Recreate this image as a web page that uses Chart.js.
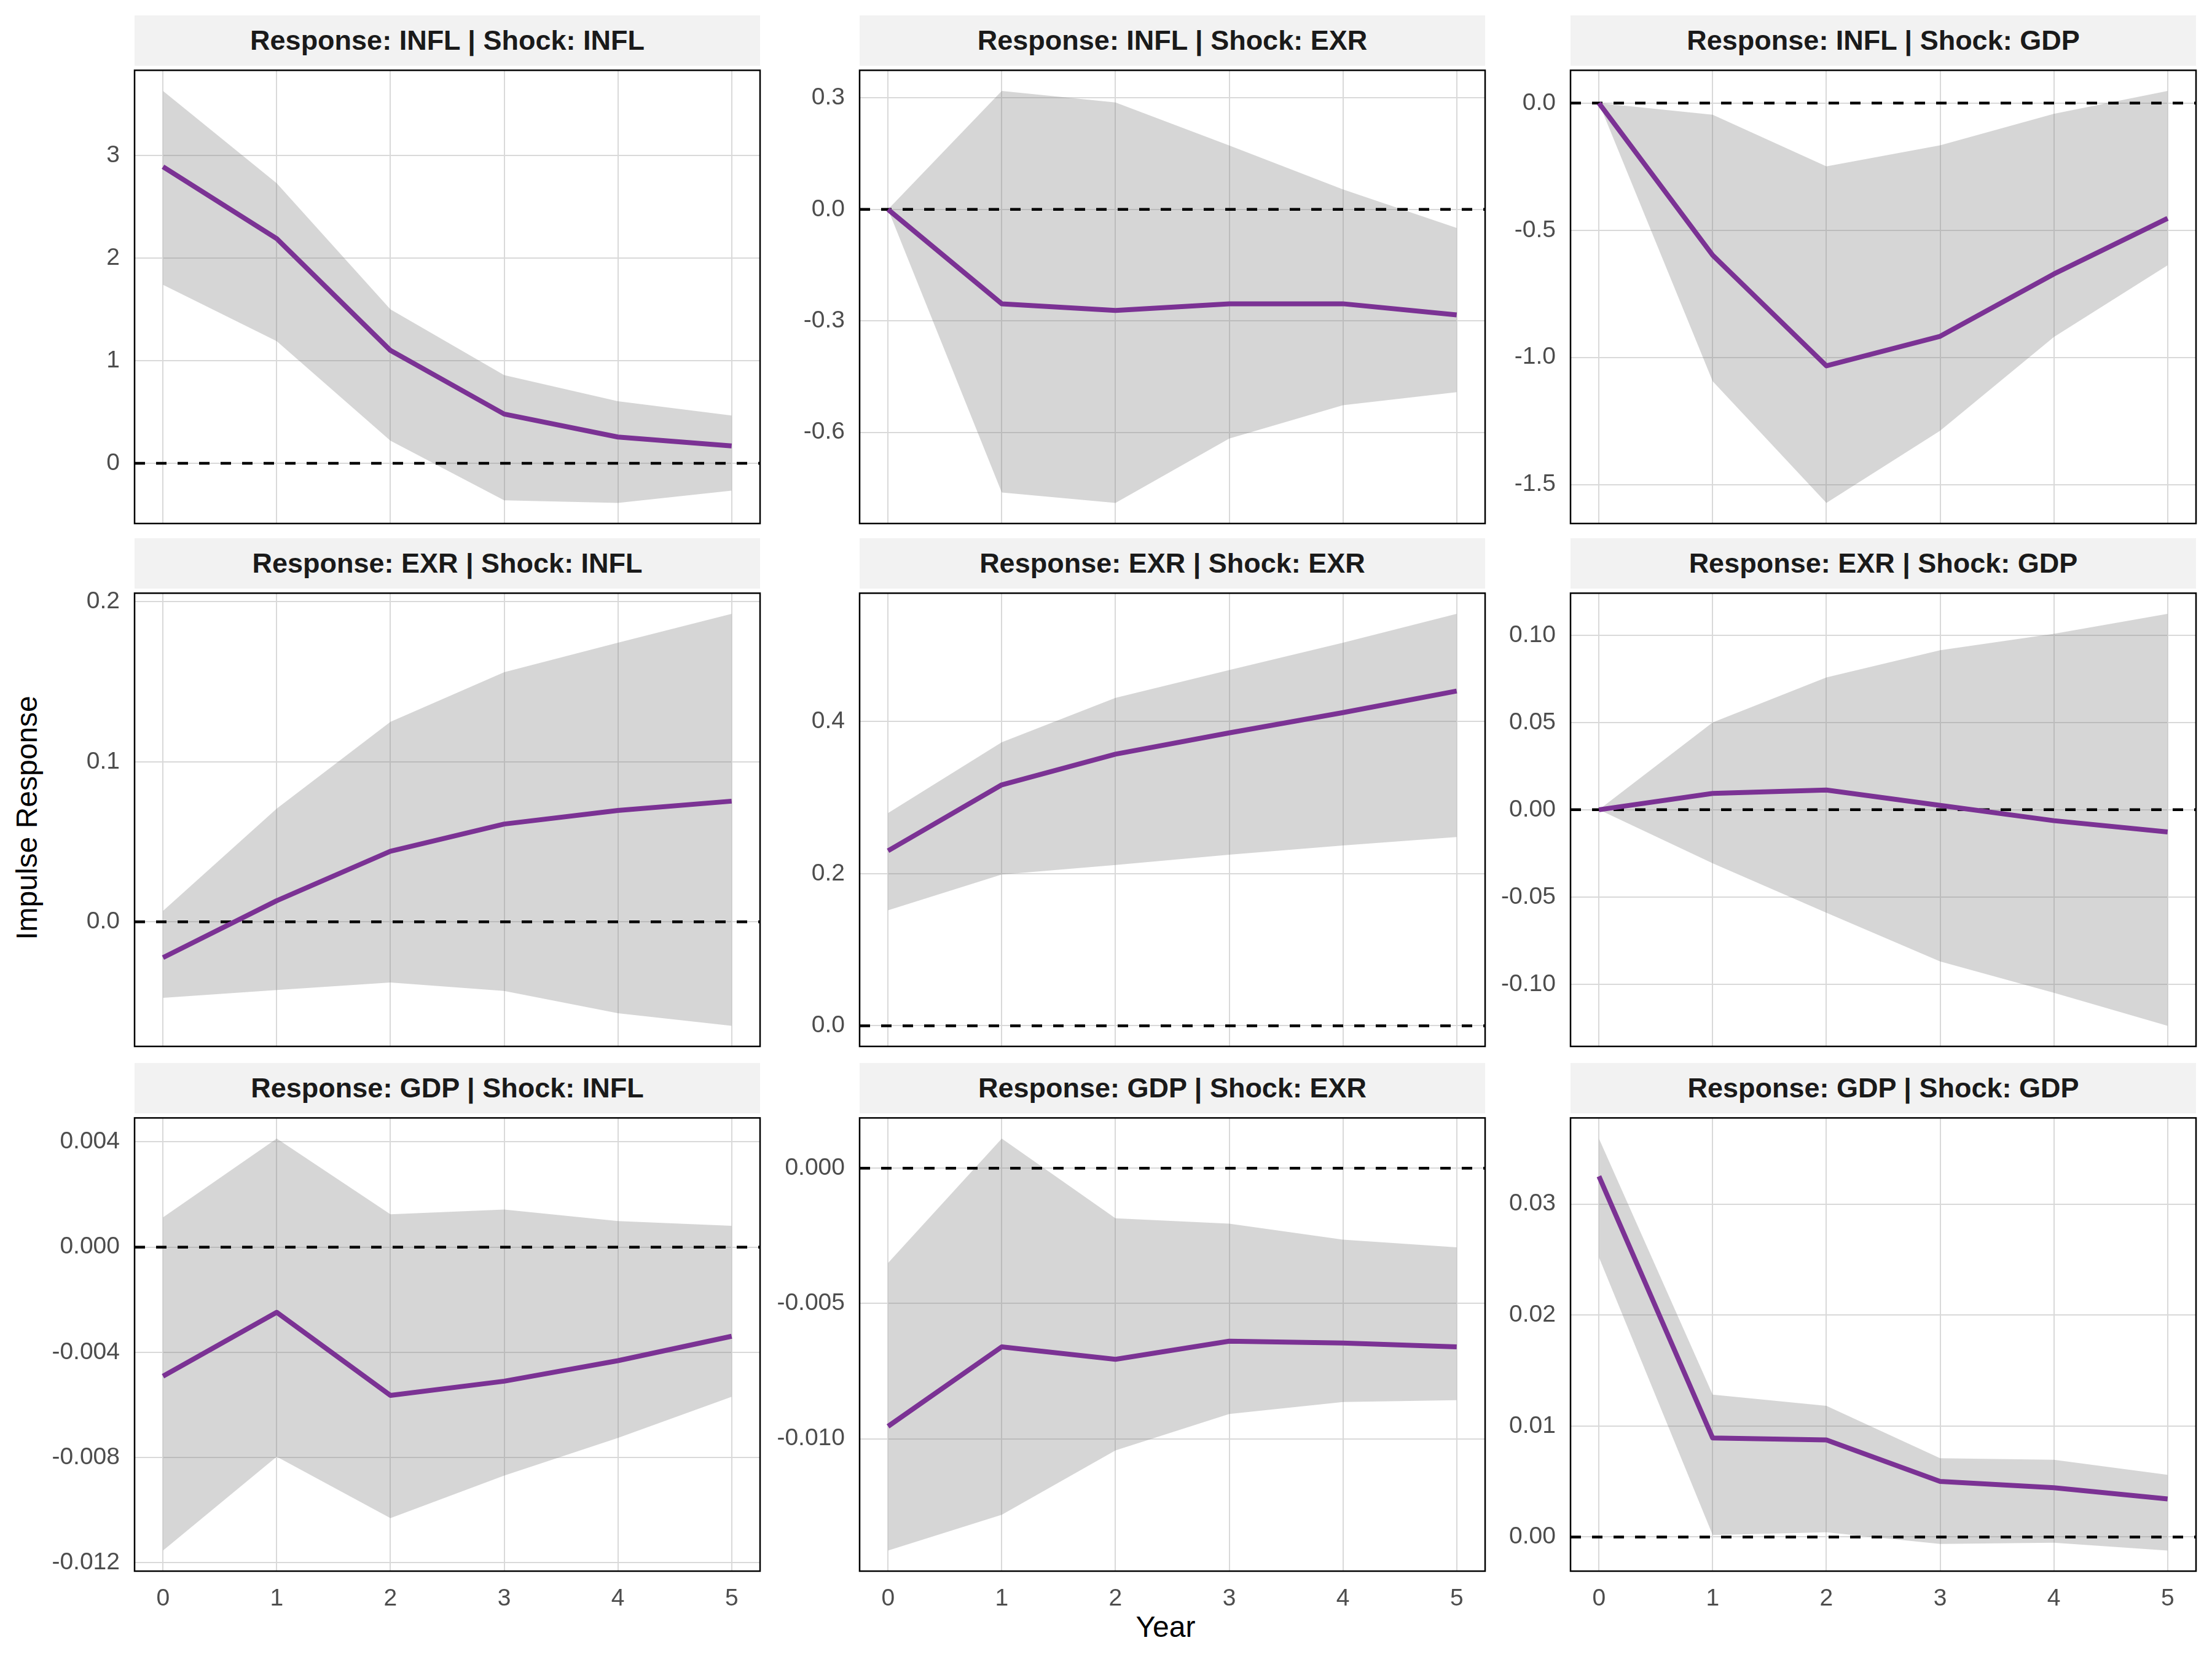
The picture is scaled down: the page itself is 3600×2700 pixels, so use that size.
<!DOCTYPE html>
<html>
<head>
<meta charset="utf-8">
<title>Impulse responses</title>
<script src="https://cdn.jsdelivr.net/npm/chart.js@4.4.1/dist/chart.umd.min.js"></script>
<style>
  html, body { margin: 0; padding: 0; background: #fff; }
  #page { position: relative; width: 3600px; height: 2700px; font-family: "Liberation Sans", Arial, sans-serif; }
  .strip { position: absolute; background: #f2f2f2; color: #1a1a1a; font-weight: bold; font-size: 45px;
           display: flex; align-items: center; justify-content: center; z-index: 2; white-space: nowrap; }
  .holder { position: absolute; z-index: 1; }
  .axis-title { position: absolute; font-size: 48px; color: #000; white-space: nowrap; transform: translate(-50%, -50%); }
</style>
</head>
<body>
<div id="page"></div>
<script>
// horizon (years)
const years = [0, 1, 2, 3, 4, 5];

// Response: INFL
const inflInflIrf   = [2.89, 2.19, 1.10, 0.48, 0.256, 0.17];
const inflInflLower = [1.74, 1.19, 0.22, -0.36, -0.386, -0.266];
const inflInflUpper = [3.63, 2.73, 1.50, 0.86, 0.605, 0.466];

const inflExrIrf   = [0, -0.254, -0.272, -0.254, -0.254, -0.284];
const inflExrLower = [0, -0.762, -0.790, -0.617, -0.527, -0.492];
const inflExrUpper = [0, 0.319, 0.288, 0.172, 0.054, -0.050];

const inflGdpIrf   = [0, -0.598, -1.033, -0.917, -0.672, -0.453];
const inflGdpLower = [0, -1.094, -1.572, -1.288, -0.920, -0.638];
const inflGdpUpper = [0, -0.046, -0.249, -0.166, -0.042, 0.048];

// Response: EXR
const exrInflIrf   = [-0.0224, 0.0132, 0.0441, 0.0611, 0.0696, 0.0754];
const exrInflLower = [-0.0475, -0.0426, -0.0379, -0.0432, -0.0571, -0.065];
const exrInflUpper = [0.0068, 0.0707, 0.125, 0.156, 0.1744, 0.1925];

const exrExrIrf   = [0.230, 0.3167, 0.357, 0.385, 0.4116, 0.440];
const exrExrLower = [0.1518, 0.1989, 0.2114, 0.2249, 0.237, 0.248];
const exrExrUpper = [0.2795, 0.3727, 0.431, 0.4676, 0.5035, 0.5415];

const exrGdpIrf   = [0, 0.0094, 0.0113, 0.0025, -0.00625, -0.0127];
const exrGdpLower = [0, -0.0307, -0.059, -0.0869, -0.1049, -0.1238];
const exrGdpUpper = [0, 0.05, 0.0758, 0.0914, 0.1008, 0.1123];

// Response: GDP
const gdpInflIrf   = [-0.00491, -0.00248, -0.00564, -0.0051, -0.00432, -0.00339];
const gdpInflLower = [-0.01154, -0.00797, -0.01031, -0.00869, -0.00726, -0.00569];
const gdpInflUpper = [0.00113, 0.00413, 0.00125, 0.00143, 0.00099, 0.00081];

const gdpExrIrf   = [-0.00954, -0.0066, -0.00706, -0.00639, -0.00646, -0.0066];
const gdpExrLower = [-0.01413, -0.01281, -0.01043, -0.00908, -0.00864, -0.00857];
const gdpExrUpper = [-0.0035, 0.0011, -0.00185, -0.00205, -0.00264, -0.00292];

const gdpGdpIrf   = [0.0325, 0.00892, 0.00874, 0.005, 0.00444, 0.00343];
const gdpGdpLower = [0.0252, 0.00017, 0.00042, -0.00063, -0.00052, -0.00122];
const gdpGdpUpper = [0.0359, 0.01283, 0.01182, 0.0071, 0.00696, 0.0056];

// y tick labels per panel
const inflInflTicks = [0, 1, 2, 3];
const inflExrTicks  = [-0.6, -0.3, 0.0, 0.3];
const inflGdpTicks  = [-1.5, -1.0, -0.5, 0.0];
const exrInflTicks  = [0.0, 0.1, 0.2];
const exrExrTicks   = [0.0, 0.2, 0.4];
const exrGdpTicks   = [-0.10, -0.05, 0.00, 0.05, 0.10];
const gdpInflTicks  = [-0.012, -0.008, -0.004, 0.000, 0.004];
const gdpExrTicks   = [-0.010, -0.005, 0.000];
const gdpGdpTicks   = [0.00, 0.01, 0.02, 0.03];

const panels = [
    { resp: 'INFL', shock: 'INFL', irf: inflInflIrf, lo: inflInflLower, hi: inflInflUpper, ticks: inflInflTicks, dec: 0 },
    { resp: 'INFL', shock: 'EXR',  irf: inflExrIrf,  lo: inflExrLower,  hi: inflExrUpper,  ticks: inflExrTicks,  dec: 1 },
    { resp: 'INFL', shock: 'GDP',  irf: inflGdpIrf,  lo: inflGdpLower,  hi: inflGdpUpper,  ticks: inflGdpTicks,  dec: 1 },
    { resp: 'EXR',  shock: 'INFL', irf: exrInflIrf,  lo: exrInflLower,  hi: exrInflUpper,  ticks: exrInflTicks,  dec: 1 },
    { resp: 'EXR',  shock: 'EXR',  irf: exrExrIrf,   lo: exrExrLower,   hi: exrExrUpper,   ticks: exrExrTicks,   dec: 1 },
    { resp: 'EXR',  shock: 'GDP',  irf: exrGdpIrf,   lo: exrGdpLower,   hi: exrGdpUpper,   ticks: exrGdpTicks,   dec: 2 },
    { resp: 'GDP',  shock: 'INFL', irf: gdpInflIrf,  lo: gdpInflLower,  hi: gdpInflUpper,  ticks: gdpInflTicks,  dec: 3 },
    { resp: 'GDP',  shock: 'EXR',  irf: gdpExrIrf,   lo: gdpExrLower,   hi: gdpExrUpper,   ticks: gdpExrTicks,   dec: 3 },
    { resp: 'GDP',  shock: 'GDP',  irf: gdpGdpIrf,   lo: gdpGdpLower,   hi: gdpGdpUpper,   ticks: gdpGdpTicks,   dec: 2 }
];

// page layout (px)
const colLeft = [219, 1399, 2556];
const rowTop = [107, 958, 1812];
const plotW = 1018, plotH = 745, stripH = 82;
const padL = 220, padT = 40, padR = 40, padB = 80;

const FONT = '"Liberation Sans", Arial, sans-serif';
const LINE_COLOR = '#7b3294';
const BAND_COLOR = 'rgba(128, 128, 128, 0.32)';
const GRID_COLOR = '#d9d9d9';

// dashed zero line, drawn just before the response line
const zeroLine = {
    id: 'zeroLine',
    beforeDatasetDraw(chart, args) {
        if (args.index !== 0) return;
        const { ctx, chartArea } = chart;
        const y = chart.scales.y.getPixelForValue(0);
        ctx.save();
        ctx.strokeStyle = '#000';
        ctx.lineWidth = 4.5;
        ctx.setLineDash([17, 18]);
        ctx.beginPath();
        ctx.moveTo(chartArea.left, y);
        ctx.lineTo(chartArea.right, y);
        ctx.stroke();
        ctx.restore();
    }
};

// black panel frame
const panelFrame = {
    id: 'panelFrame',
    afterDraw(chart) {
        const { ctx, chartArea: a } = chart;
        ctx.save();
        ctx.strokeStyle = '#000';
        ctx.lineWidth = 2.5;
        ctx.strokeRect(a.left, a.top, a.right - a.left, a.bottom - a.top);
        ctx.restore();
    }
};

const page = document.getElementById('page');

panels.forEach((p, i) => {
    const row = Math.floor(i / 3), col = i % 3;
    const left = colLeft[col], top = rowTop[row];

    const strip = document.createElement('div');
    strip.className = 'strip';
    strip.style.left = left + 'px';
    strip.style.top = (top - stripH) + 'px';
    strip.style.width = plotW + 'px';
    strip.style.height = stripH + 'px';
    strip.textContent = `Response: ${p.resp} | Shock: ${p.shock}`;
    page.appendChild(strip);

    const holder = document.createElement('div');
    holder.className = 'holder';
    holder.style.left = (left - padL) + 'px';
    holder.style.top = (top - padT) + 'px';
    const canvas = document.createElement('canvas');
    canvas.width = plotW + padL + padR;
    canvas.height = plotH + padT + padB;
    holder.appendChild(canvas);
    page.appendChild(holder);

    // ggplot-like 5% expansion, zero line included in the range
    const yLow = Math.min(0, ...p.lo), yHigh = Math.max(0, ...p.hi);
    const expand = (yHigh - yLow) * 0.05;

    const pts = arr => years.map((x, k) => ({ x: x, y: arr[k] }));

    new Chart(canvas.getContext('2d'), {
        type: 'line',
        data: {
            datasets: [
                { data: pts(p.irf), borderColor: LINE_COLOR, borderWidth: 8, pointRadius: 0,
                  fill: false, tension: 0, borderJoinStyle: 'round' },
                { data: pts(p.hi), borderColor: 'rgba(0,0,0,0)', borderWidth: 1, pointRadius: 0,
                  fill: '+1', backgroundColor: BAND_COLOR, tension: 0 },
                { data: pts(p.lo), borderColor: 'rgba(0,0,0,0)', borderWidth: 1, pointRadius: 0,
                  fill: false, tension: 0 }
            ]
        },
        options: {
            responsive: false,
            animation: false,
            devicePixelRatio: 1,
            layout: { padding: { top: padT, right: padR, left: 0, bottom: 0 } },
            plugins: {
                legend: { display: false },
                tooltip: { enabled: false }
            },
            scales: {
                x: {
                    type: 'linear',
                    min: -0.25,
                    max: 5.25,
                    afterBuildTicks: s => { s.ticks = years.map(v => ({ value: v })); },
                    afterFit: s => { s.height = padB; },
                    grid: { color: GRID_COLOR, lineWidth: 2, drawTicks: false },
                    border: { display: false },
                    ticks: {
                        display: row === 2,
                        padding: 22,
                        color: '#4d4d4d',
                        autoSkip: false,
                        maxRotation: 0,
                        font: { family: FONT, size: 39 },
                        callback: v => String(v)
                    }
                },
                y: {
                    type: 'linear',
                    min: yLow - expand,
                    max: yHigh + expand,
                    afterBuildTicks: s => { s.ticks = p.ticks.map(v => ({ value: v })); },
                    afterFit: s => { s.width = padL; },
                    grid: { color: GRID_COLOR, lineWidth: 2, drawTicks: false },
                    border: { display: false },
                    ticks: {
                        padding: 24,
                        color: '#4d4d4d',
                        autoSkip: false,
                        font: { family: FONT, size: 39 },
                        callback: v => Number(v).toFixed(p.dec)
                    }
                }
            }
        },
        plugins: [zeroLine, panelFrame]
    });
});

// shared axis titles
const yTitle = document.createElement('div');
yTitle.className = 'axis-title';
yTitle.style.left = '43px';
yTitle.style.top = '1331px';
yTitle.style.transform = 'translate(-50%, -50%) rotate(-90deg)';
yTitle.textContent = 'Impulse Response';
page.appendChild(yTitle);

const xTitle = document.createElement('div');
xTitle.className = 'axis-title';
xTitle.style.left = '1897px';
xTitle.style.top = '2647px';
xTitle.textContent = 'Year';
page.appendChild(xTitle);
</script>
</body>
</html>
